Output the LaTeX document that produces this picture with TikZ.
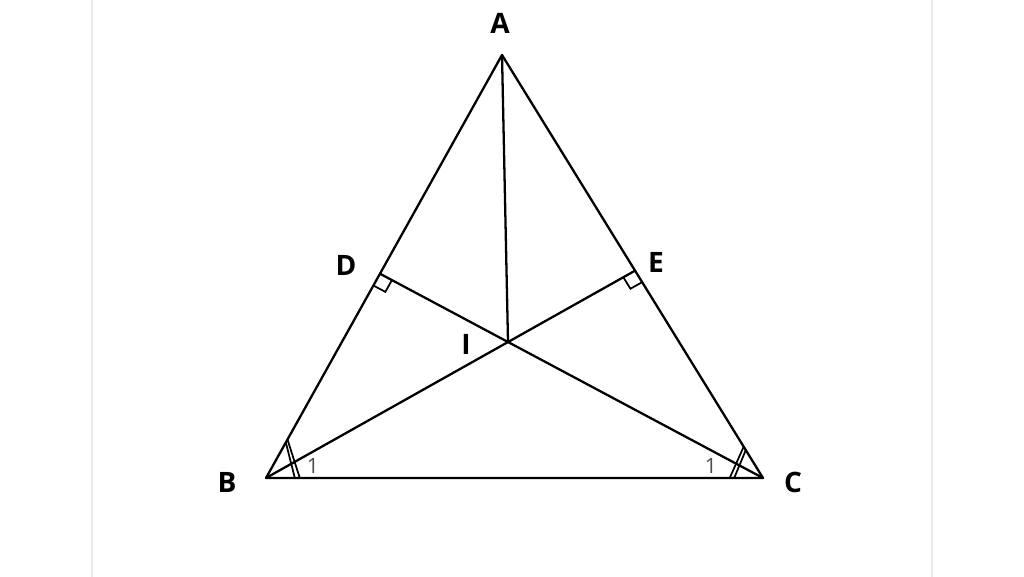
\documentclass[tikz,border=0pt]{standalone}
\usepackage{fontspec}
\setmainfont{Open Sans}
\usepackage{tikz}
\usetikzlibrary{calc}
\tikzset{
    vertex/.style={font=\bfseries\fontsize{16}{19}\selectfont, inner sep=0pt},
    seg/.style={line width=1.3pt, line cap=round, line join=round},
    tick/.style={line width=1pt},
    anglelbl/.style={font=\fontsize{12}{14}\selectfont, text=black!70, inner sep=0pt},
    frame/.style={draw=black!8, line width=0.6pt}
}

\begin{document}
\begin{tikzpicture}[x=0.02cm, y=-0.02cm]
            \useasboundingbox (0,0) rectangle (1024,577);
            \draw[frame] (92,0) -- (92,577);
            \draw[frame] (932,0) -- (932,577);

            \coordinate (A) at (502,55);
            \coordinate (B) at (266,478);
            \coordinate (C) at (763,478);
            \coordinate (I) at (508,342);
            \coordinate (E) at (intersection of B--I and A--C);
            \coordinate (D) at (intersection of C--I and A--B);

            \draw[seg] (A) -- (B) -- (C) -- cycle;
            \draw[seg] (A) -- (I);
            \draw[seg] (B) -- (E);
            \draw[seg] (C) -- (D);

            % right angles at D and E
            \coordinate (Db) at ($(D)!0.27cm!(B)$);
            \coordinate (Dc) at ($(D)!0.27cm!(C)$);
            \draw[tick] (Db) -- ($(Db)+(Dc)-(D)$) -- (Dc);
            \coordinate (Ec) at ($(E)!0.27cm!(C)$);
            \coordinate (Eb) at ($(E)!0.27cm!(B)$);
            \draw[tick] (Ec) -- ($(Ec)+(Eb)-(E)$) -- (Eb);

            % equal angle marks
            \draw[tick] ($(B)!0.084!(A)$) -- ($(B)!0.058!(C)$);
            \draw[tick] ($(B)!0.091!(A)$) -- ($(B)!0.068!(C)$);
            \draw[tick] ($(C)!0.074!(A)$) -- ($(C)!0.067!(B)$);
            \draw[tick] ($(C)!0.066!(A)$) -- ($(C)!0.058!(B)$);

            \node[anglelbl] (oneB) at (313,466) {1};
            \node[anglelbl] (oneC) at (711,466) {1};

            \node[vertex] (lblA) at (500,23) {A};
            \node[vertex] (lblB) at (227,482) {B};
            \node[vertex] (lblC) at (793,482) {C};
            \node[vertex] (lblD) at (346,265) {D};
            \node[vertex] (lblE) at (656,262) {E};
            \node[vertex] (lblI) at (466,344) {I};
\end{tikzpicture}
\end{document}
